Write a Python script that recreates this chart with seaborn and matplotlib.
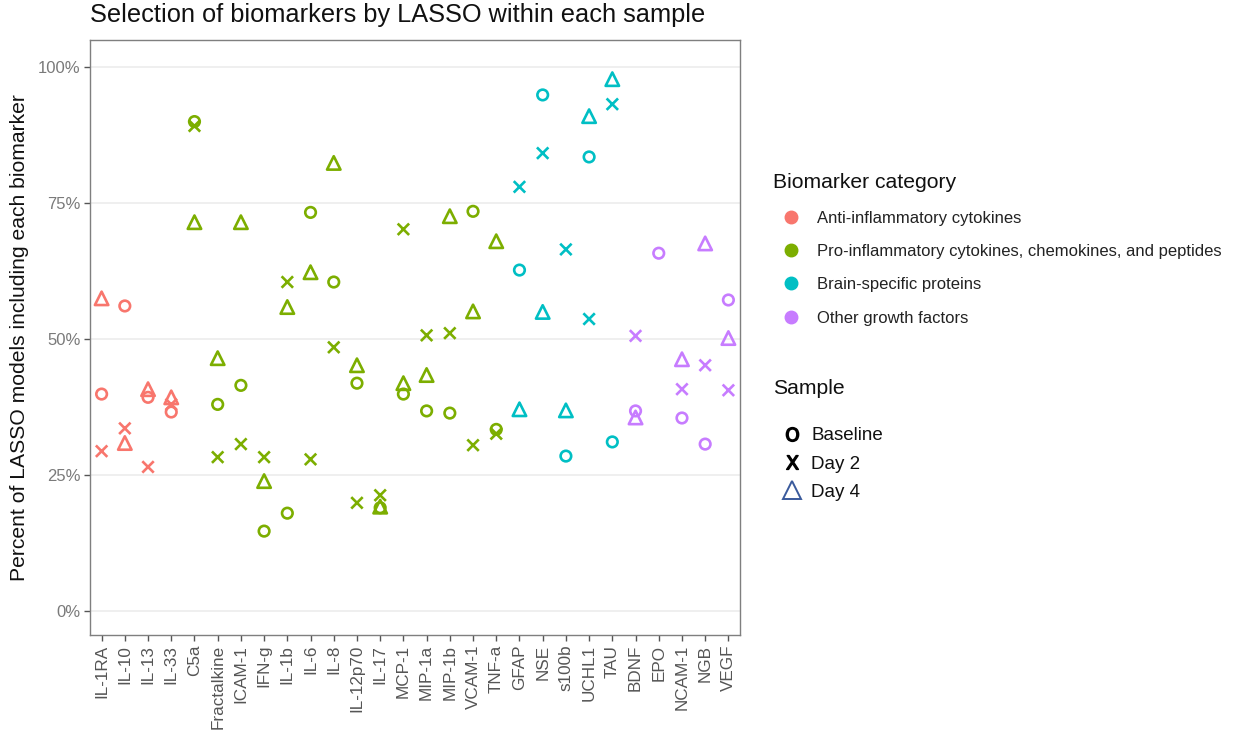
import matplotlib
matplotlib.use("Agg")
import matplotlib.pyplot as plt
from matplotlib.lines import Line2D
from matplotlib.markers import MarkerStyle
from matplotlib.ticker import PercentFormatter
import seaborn as sns
import pandas as pd

biomarkers = ["IL-1RA", "IL-10", "IL-13", "IL-33", "C5a", "Fractalkine", "ICAM-1",
              "IFN-g", "IL-1b", "IL-6", "IL-8", "IL-12p70", "IL-17", "MCP-1", "MIP-1a",
              "MIP-1b", "VCAM-1", "TNF-a", "GFAP", "NSE", "s100b", "UCHL1", "TAU",
              "BDNF", "EPO", "NCAM-1", "NGB", "VEGF"]
categories = (["Anti-inflammatory cytokines"] * 4
              + ["Pro-inflammatory cytokines, chemokines, and peptides"] * 14
              + ["Brain-specific proteins"] * 5
              + ["Other growth factors"] * 5)
baseline = [0.399, 0.561, 0.393, 0.366, 0.900, 0.380, 0.415, 0.147, 0.180, 0.733,
            0.605, 0.419, 0.190, 0.399, 0.368, 0.364, 0.735, 0.334, 0.627, 0.949,
            0.285, 0.835, 0.311, 0.368, 0.658, 0.355, 0.307, 0.572]
day2 = [0.294, 0.336, 0.265, 0.380, 0.892, 0.283, 0.307, 0.283, 0.605, 0.279,
        0.485, 0.199, 0.213, 0.702, 0.507, 0.511, 0.305, 0.326, 0.780, 0.842,
        0.665, 0.537, 0.932, 0.506, None, 0.408, 0.452, 0.406]
day4 = [0.575, 0.309, 0.408, 0.393, 0.715, 0.465, 0.715, 0.239, 0.559, 0.623,
        0.824, 0.452, 0.192, 0.419, 0.434, 0.726, 0.551, 0.680, 0.371, 0.550,
        0.369, 0.910, 0.978, 0.356, None, 0.463, 0.676, 0.502]
samples = ["Baseline", "Day 2", "Day 4"]
category_order = ["Anti-inflammatory cytokines",
                  "Pro-inflammatory cytokines, chemokines, and peptides",
                  "Brain-specific proteins", "Other growth factors"]
palette = ["#F8766D", "#7CAE00", "#00BFC4", "#C77CFF"]

rows = []
for s, vals in zip(samples, [baseline, day2, day4]):
    for b, c, v in zip(biomarkers, categories, vals):
        if v is not None:
            rows.append({"Biomarker": b, "Category": c, "Sample": s, "Pct": v})
df = pd.DataFrame(rows)
df["Biomarker"] = pd.Categorical(df["Biomarker"], categories=biomarkers, ordered=True)

sns.set_theme(style="white")
plt.rcParams["font.family"] = ["Liberation Sans", "DejaVu Sans"]

fig = plt.figure(figsize=(12.4, 7.34), dpi=100)
ax = fig.add_axes([90 / 1240, 1 - 635 / 734, 650 / 1240, 595 / 734])

sns.scatterplot(data=df, x="Biomarker", y="Pct", hue="Category", hue_order=category_order,
                palette=palette, style="Sample", style_order=samples,
                markers={"Baseline": "o", "Day 2": "X", "Day 4": "^"},
                s=80, ax=ax, legend=False, zorder=3)

# hollow, ggplot-like shapes (1 = open circle, 4 = x, 2 = open triangle)
coll = ax.collections[0]
fc = coll.get_facecolors()
coll.set_edgecolors(fc)
coll.set_facecolors("none")
coll.set_linewidths(1.9)
ms = {"Baseline": MarkerStyle("o"), "Day 2": MarkerStyle("x"), "Day 4": MarkerStyle("^")}
scale = {"Baseline": 0.85, "Day 2": 0.92, "Day 4": 1.08}
new_paths = []
for s in df["Sample"]:
    m = ms[s]
    new_paths.append(m.get_path().transformed(m.get_transform().scale(scale[s], scale[s])))
coll.set_paths(new_paths)

ax.set_xlim(-0.5, len(biomarkers) - 0.5)
ax.set_ylim(-0.044, 1.05)
ax.set_yticks([0, 0.25, 0.5, 0.75, 1.0])
ax.yaxis.set_major_formatter(PercentFormatter(1.0, decimals=0))
ax.grid(axis="y", color="#EBEBEB", linewidth=1.1)
ax.grid(axis="x", visible=False)
ax.set_axisbelow(True)
for sp in ax.spines.values():
    sp.set_color("#7F7F7F")
    sp.set_linewidth(1.0)
ax.tick_params(axis="both", which="major", length=4, width=1, color="#555555",
               labelcolor="#7A7A7A", labelsize=12, bottom=True, left=True, pad=3)
ax.tick_params(axis="x", labelrotation=90, labelsize=12.3, labelcolor="#555555")
ax.set_xlabel("")
ax.set_ylabel("Percent of LASSO models including each biomarker", fontsize=15.2,
              color="#111111", labelpad=6)
fig.text(90 / 1240, 1 - 15 / 734, "Selection of biomarkers by LASSO within each sample",
         fontsize=18.3, color="#111111", ha="left", va="center")

# legend: biomarker category
fig.text(773 / 1240, 1 - 183 / 734, "Biomarker category", fontsize=15.2,
         color="#111111", ha="left", va="center")
cat_handles = [Line2D([], [], marker="o", linestyle="none", markersize=9,
                      markerfacecolor=c, markeredgecolor=c) for c in palette]
leg1 = fig.legend(cat_handles, category_order, loc="center left",
                  bbox_to_anchor=(763 / 1240, 1 - 268 / 734),
                  frameon=False, fontsize=12, labelspacing=1.1,
                  handletextpad=0.86, handlelength=1.5, borderpad=0.4)
# legend: sample
fig.text(773 / 1240, 1 - 389 / 734, "Sample", fontsize=15.2,
         color="#111111", ha="left", va="center")
samp_handles = [Line2D([], [], marker=r"$\mathsf{O}$", linestyle="none", markersize=10,
                       color="black"),
                Line2D([], [], marker=r"$\mathsf{X}$", linestyle="none", markersize=10,
                       color="black"),
                Line2D([], [], marker="^", linestyle="none", markersize=13,
                       markerfacecolor="none", markeredgecolor="#3A5A9C", markeredgewidth=1.4)]
leg2 = fig.legend(samp_handles, samples, loc="center left",
                  bbox_to_anchor=(766 / 1240, 1 - 464 / 734),
                  frameon=False, fontsize=13.5, labelspacing=0.6,
                  handletextpad=0.5, handlelength=1.0, borderpad=0.4)
for t in leg1.get_texts():
    t.set_color("#222222")
for t in leg2.get_texts():
    t.set_color("#111111")

fig.savefig("out.png", dpi=100, facecolor="white")
